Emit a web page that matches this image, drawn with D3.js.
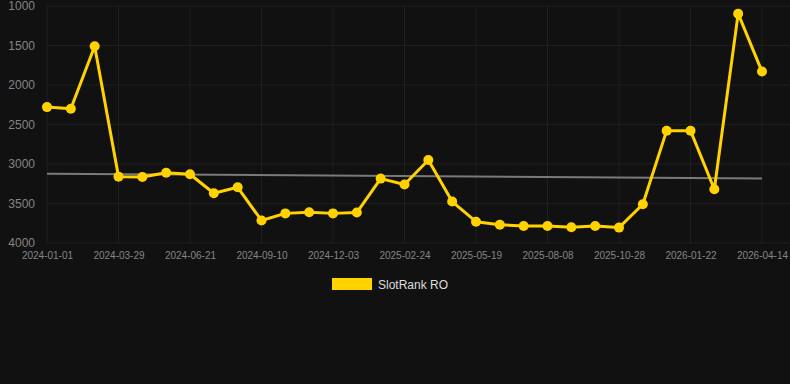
<!DOCTYPE html>
<html>
<head>
<meta charset="utf-8">
<script src="https://cdn.jsdelivr.net/npm/d3@7"></script>
<style>
  html, body { margin: 0; padding: 0; background: #111111; }
  svg { display: block; font-family: "Liberation Sans", Arial, Helvetica, sans-serif; }
</style>
</head>
<body>
<div id="chart"></div>
<script>
// --------------------------------------
//  Data
// --------------------------------------

const dates = [
  "2024-01-01", "2024-01-30", "2024-02-28", "2024-03-29", "2024-04-27", "2024-05-24",
  "2024-06-21", "2024-07-18", "2024-08-14", "2024-09-10", "2024-10-08", "2024-11-05",
  "2024-12-03", "2024-12-31", "2025-01-28", "2025-02-24", "2025-03-24", "2025-04-21",
  "2025-05-19", "2025-06-15", "2025-07-12", "2025-08-08", "2025-09-04", "2025-10-01",
  "2025-10-28", "2025-11-27", "2025-12-25", "2026-01-22", "2026-02-19", "2026-03-18",
  "2026-04-14"
];

const ranks = [
  2280, 2300, 1510, 3160, 3165, 3110,
  3130, 3370, 3295, 3715, 3625, 3610,
  3625, 3615, 3185, 3260, 2950, 3475,
  3730, 3770, 3785, 3785, 3800, 3785,
  3805, 3510, 2578, 2578, 3320, 1097,
  1830
];

const yTicks = [1000, 1500, 2000, 2500, 3000, 3500, 4000];
const seriesName = "SlotRank RO";

// --------------------------------------
//  Canvas
// --------------------------------------

const width = 790;
const height = 384;
const margin = { top: 6, right: 28, bottom: 141, left: 47 };
const innerwidth = width - margin.left - margin.right;
const innerheight = height - margin.top - margin.bottom;

const svg = d3
  .select("#chart")
  .append("svg")
  .attr("width", width)
  .attr("height", height)
  .attr("viewBox", [0, 0, width, height]);

svg.append("rect")
  .attr("width", width)
  .attr("height", height)
  .attr("fill", "#111111");

const innerChart = svg
  .append("g")
  .attr("transform", `translate(${margin.left}, ${margin.top})`);

// --------------------------------------
//  Scales
// --------------------------------------

const x = d3.scalePoint(dates, [0, innerwidth]);
const y = d3.scaleLinear([1000, 4000], [0, innerheight]);

const data = dates.map((d, i) => ({ date: d, value: ranks[i] }));

// linear trend over the points
const n = data.length;
const meanI = d3.mean(data, (d, i) => i);
const meanV = d3.mean(data, d => d.value);
const slope = d3.sum(data, (d, i) => (i - meanI) * (d.value - meanV)) /
              d3.sum(data, (d, i) => (i - meanI) ** 2);
const trend = [0, n - 1].map(i => ({ date: dates[i], value: meanV + slope * (i - meanI) }));

// --------------------------------------
//  Grid + axes
// --------------------------------------

const tickDates = dates.filter((d, i) => i % 3 === 0);

innerChart.append("g")
  .attr("class", "grid-y")
  .selectAll("line")
  .data(yTicks)
  .join("line")
  .attr("x1", 0)
  .attr("x2", width - margin.left)
  .attr("y1", d => y(d))
  .attr("y2", d => y(d))
  .attr("stroke", "#1f1f1f")
  .attr("stroke-width", 1);

innerChart.append("g")
  .attr("class", "grid-x")
  .selectAll("line")
  .data(tickDates)
  .join("line")
  .attr("x1", d => x(d))
  .attr("x2", d => x(d))
  .attr("y1", 0)
  .attr("y2", innerheight)
  .attr("stroke", "#1f1f1f")
  .attr("stroke-width", 1);

innerChart.append("g")
  .attr("class", "y-axis")
  .attr("transform", "translate(-9,0)")
  .call(d3.axisLeft(y).tickValues(yTicks).tickSize(0).tickFormat(d3.format("d")))
  .call(g => g.select(".domain").remove())
  .selectAll("text")
  .attr("fill", "#858585")
  .attr("font-size", 12);

innerChart.append("g")
  .attr("class", "x-axis")
  .attr("transform", `translate(0,${innerheight + 6})`)
  .call(d3.axisBottom(x).tickValues(tickDates).tickSize(0))
  .call(g => g.select(".domain").remove())
  .selectAll("text")
  .attr("fill", "#858585")
  .attr("font-size", 10);

// --------------------------------------
//  Trend line
// --------------------------------------

const line = d3.line()
  .x(d => x(d.date))
  .y(d => y(d.value));

innerChart.append("path")
  .datum(trend)
  .attr("fill", "none")
  .attr("stroke", "#7a7a7a")
  .attr("stroke-width", 2)
  .attr("d", line);

// --------------------------------------
//  Series
// --------------------------------------

innerChart.append("path")
  .datum(data)
  .attr("fill", "none")
  .attr("stroke", "#ffd200")
  .attr("stroke-width", 3)
  .attr("stroke-linejoin", "round")
  .attr("d", line);

innerChart.selectAll("circle.point")
  .data(data)
  .join("circle")
  .attr("class", "point")
  .attr("cx", d => x(d.date))
  .attr("cy", d => y(d.value))
  .attr("r", 5)
  .attr("fill", "#ffd200");

// --------------------------------------
//  Legend
// --------------------------------------

const legend = svg.append("g")
  .attr("transform", "translate(332,278)");

legend.append("rect")
  .attr("width", 40)
  .attr("height", 12)
  .attr("fill", "#ffd200");

legend.append("text")
  .attr("x", 46)
  .attr("y", 10.5)
  .attr("fill", "#dddddd")
  .attr("font-size", 12)
  .text(seriesName);
</script>
</body>
</html>
